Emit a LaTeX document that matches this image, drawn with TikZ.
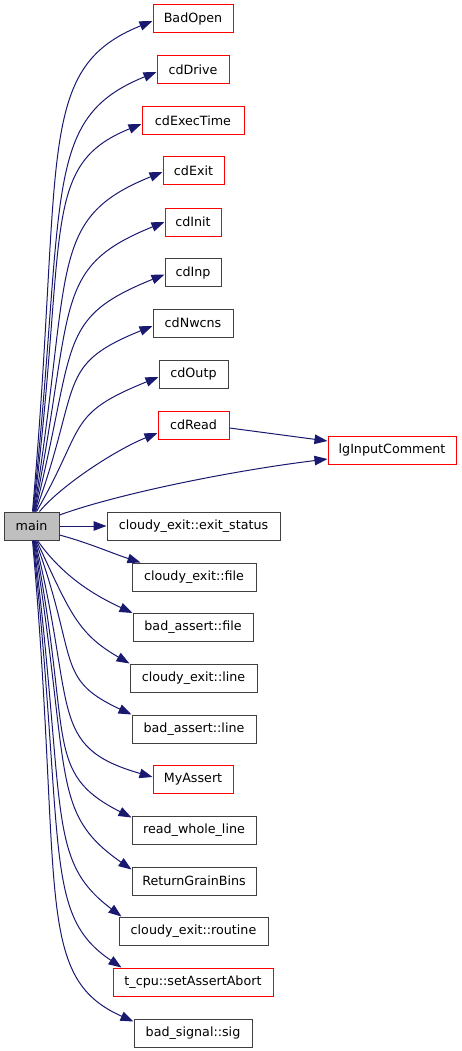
\documentclass[tikz,border=0pt]{standalone}
\usepackage{fontspec}
\setmainfont{DejaVu Sans}
\usetikzlibrary{arrows.meta}
\definecolor{edgeblue}{HTML}{191970}
\definecolor{boxred}{HTML}{FF0000}
\definecolor{boxgray}{HTML}{404040}
\definecolor{mainfill}{HTML}{BFBFBF}
\begin{document}
\begin{tikzpicture}[x=1pt,y=1pt,
 fn/.style={draw, line width=1pt, minimum height=28pt, inner sep=0pt, font=\fontsize{12.7}{15}\selectfont, text=black},
 rbox/.style={fn, draw=boxred},
 kbox/.style={fn, draw=boxgray},
 mbox/.style={fn, draw=boxgray, fill=mainfill},
 call/.style={draw=edgeblue, line width=1pt, -{Triangle[length=13pt,width=9.5pt]}},
]
\useasboundingbox (0,0) rectangle (461,-1051);
% nodes
\node[rbox, minimum width=80pt]  (badopen) at (193,-19)    {BadOpen};
\node[rbox, minimum width=72pt]  (cddrive) at (193,-70)    {cdDrive};
\node[rbox, minimum width=102pt] (cdexec)  at (193,-121)   {cdExecTime};
\node[rbox, minimum width=61pt]  (cdexit)  at (193.5,-171) {cdExit};
\node[rbox, minimum width=56pt]  (cdinit)  at (193,-222)   {cdInit};
\node[kbox, minimum width=56pt]  (cdinp)   at (193,-272.5) {cdInp};
\node[kbox, minimum width=80pt]  (cdnwcns) at (193,-323)   {cdNwcns};
\node[kbox, minimum width=69pt]  (cdoutp)  at (193.5,-374) {cdOutp};
\node[rbox, minimum width=71pt]  (cdread)  at (193.5,-425) {cdRead};
\node[rbox, minimum width=128pt] (lg)      at (392,-450)   {lgInputComment};
\node[mbox, minimum width=55pt]  (main)    at (31.5,-526)  {main};
\node[kbox, minimum width=173pt] (exitst)  at (193.5,-526) {cloudy\_exit::exit\_status};
\node[kbox, minimum width=124pt] (cef)     at (194,-577)   {cloudy\_exit::file};
\node[kbox, minimum width=120pt] (baf)     at (193,-627.5) {bad\_assert::file};
\node[kbox, minimum width=127pt] (cel)     at (193.5,-678) {cloudy\_exit::line};
\node[kbox, minimum width=124pt] (bal)     at (194,-729)   {bad\_assert::line};
\node[rbox, minimum width=80pt]  (ma)      at (193,-779)   {MyAssert};
\node[kbox, minimum width=124pt] (rwl)     at (194,-830)   {read\_whole\_line};
\node[kbox, minimum width=124pt] (rgb)     at (194,-881)   {ReturnGrainBins};
\node[kbox, minimum width=149pt] (rt)      at (193.5,-931) {cloudy\_exit::routine};
\node[rbox, minimum width=160pt] (tcpu)    at (193,-982)   {t\_cpu::setAssertAbort};
\node[kbox, minimum width=118pt] (bs)      at (193,-1033)  {bad\_signal::sig};
% upper edges
\draw[call] ([xshift=1pt]main.north) .. controls +(85:358pt) and +(202:128pt) .. ([yshift=-2pt]badopen.west);
\draw[call] ([xshift=1.5pt]main.north) .. controls +(84:321pt) and +(202:125pt) .. ([yshift=-2pt]cddrive.west);
\draw[call] ([xshift=2pt]main.north) .. controls +(83:284pt) and +(202:110pt) .. ([yshift=-3pt]cdexec.west);
\draw[call] ([xshift=2.5pt]main.north) .. controls +(81:248pt) and +(202:125pt) .. ([yshift=-1pt]cdexit.west);
\draw[call] ([xshift=3pt]main.north) .. controls +(79:212pt) and +(202:122pt) .. (cdinit.west);
\draw[call] ([xshift=3.5pt]main.north) .. controls +(76:174pt) and +(202:118pt) .. ([yshift=-2pt]cdinp.west);
\draw[call] ([xshift=4pt]main.north) .. controls +(70:137pt) and +(202:105pt) .. ([yshift=-3pt]cdnwcns.west);
\draw[call] ([xshift=5pt]main.north) .. controls +(60:100pt) and +(202:100pt) .. ([yshift=-3pt]cdoutp.west);
\draw[call] ([xshift=8pt]main.north) .. controls +(50:35pt) and +(202:45pt) .. ([yshift=-8pt]cdread.west);
\draw[call] ([yshift=11pt]main.east) .. controls +(20:60pt) and +(187:100pt) .. ([yshift=-9pt]lg.west);
\draw[call] ([yshift=-3pt]cdread.east) -- ([yshift=9pt]lg.west);
\draw[call] (main.east) -- (exitst.west);
% lower edges
\draw[call] ([yshift=-9pt]main.east) .. controls +(-15:30pt) and +(162:30pt) .. ([xshift=9pt]cef.north west);
\draw[call] ([xshift=6pt]main.south) .. controls +(-55:45pt) and +(155:40pt) .. (baf.north west);
\draw[call] ([xshift=5pt]main.south) .. controls +(-65:80pt) and +(150:60pt) .. (cel.north west);
\draw[call] ([xshift=4pt]main.south) .. controls +(-70:128pt) and +(155:85pt) .. (bal.north west);
\draw[call] ([xshift=3.5pt]main.south) .. controls +(-76:173pt) and +(164:110pt) .. ([yshift=2pt]ma.west);
\draw[call] ([xshift=3pt]main.south) .. controls +(-79:203pt) and +(153:100pt) .. ([yshift=-2pt]rwl.north west);
\draw[call] ([xshift=2.5pt]main.south) .. controls +(-81:240pt) and +(145:100pt) .. ([yshift=-3pt]rgb.north west);
\draw[call] ([xshift=2pt]main.south) .. controls +(-83:275pt) and +(143:95pt) .. ([xshift=3pt]rt.north west);
\draw[call] ([xshift=1.5pt]main.south) .. controls +(-84:312pt) and +(146:95pt) .. ([xshift=9pt]tcpu.north west);
\draw[call] ([xshift=1pt]main.south) .. controls +(-85:352pt) and +(156:110pt) .. ([yshift=-3pt]bs.north west);
\end{tikzpicture}
\end{document}
